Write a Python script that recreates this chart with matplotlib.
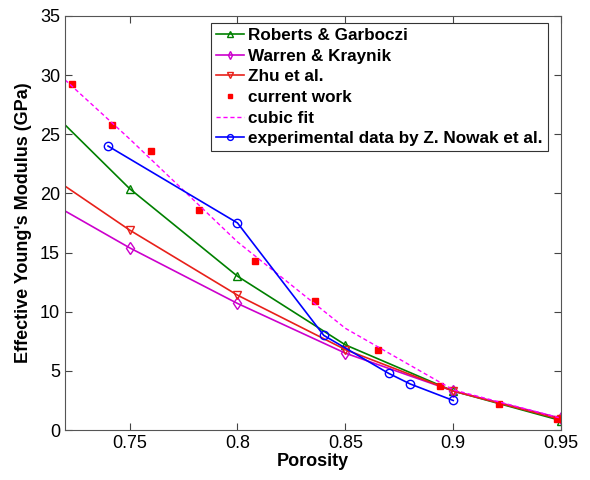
import matplotlib

matplotlib.use("Agg")
import matplotlib.pyplot as plt

# model curves (porosity grid)
model_x = [0.70, 0.75, 0.80, 0.85, 0.90, 0.95]
roberts = [29.4, 20.4, 13.0, 7.2, 3.3, 0.8]
warren = [20.6, 15.4, 10.7, 6.5, 3.3, 1.0]
zhu = [23.1, 16.9, 11.4, 6.8, 3.3, 0.9]

# current work
work_x = [0.7235, 0.742, 0.7597, 0.782, 0.808, 0.836, 0.865, 0.894, 0.921, 0.948]
work_y = [29.2, 25.8, 23.6, 18.6, 14.3, 10.9, 6.8, 3.7, 2.2, 0.9]

# cubic fit
fit_x = [0.72, 0.75, 0.80, 0.85, 0.90, 0.95]
fit_y = [29.6, 24.6, 15.9, 8.6, 3.4, 1.0]

# experimental data by Z. Nowak et al.
exp_x = [0.74, 0.80, 0.84, 0.87, 0.88, 0.90]
exp_y = [24.0, 17.5, 8.0, 4.8, 3.9, 2.5]

plt.rcParams["font.family"] = ["Liberation Sans", "DejaVu Sans"]

fig = plt.figure(figsize=(5.9, 4.8), dpi=100)
ax = fig.add_axes([0.110, 0.104, 0.841, 0.863])

ax.plot(model_x, roberts, color="#008000", marker="^", mfc="none", ms=6, lw=1.2,
        label="Roberts & Garboczi")
ax.plot(model_x, warren, color="#cc00cc", marker="d", mfc="none", ms=6, lw=1.2,
        label="Warren & Kraynik")
ax.plot(model_x, zhu, color="#e8201a", marker="v", mfc="none", ms=6, lw=1.2,
        label="Zhu et al.")
ax.plot(work_x, work_y, color="red", marker="s", ls="none", ms=5,
        label="current work")
ax.plot(fit_x, fit_y, color="#ff00ff", ls="--", lw=1.0, dashes=(3, 2),
        label="cubic fit")
ax.plot(exp_x, exp_y, color="#0000ff", marker="o", mfc="none", ms=6, lw=1.2,
        label="experimental data by Z. Nowak et al.")

ax.set_xlim(0.72, 0.95)
ax.set_ylim(0, 35)
ax.set_xticks([0.75, 0.8, 0.85, 0.9, 0.95])
ax.set_xticklabels(["0.75", "0.8", "0.85", "0.9", "0.95"])
ax.set_yticks(range(0, 36, 5))
ax.tick_params(direction="in", top=True, right=True, labelsize=13, length=5,
               color="#444444")
for s in ax.spines.values():
    s.set_color("#555555")

ax.set_xlabel("Porosity", fontsize=13, fontweight="bold", labelpad=1)
ax.set_ylabel("Effective Young's Modulus (GPa)", fontsize=13, fontweight="bold",
              labelpad=6)

leg = ax.legend(loc="upper right", bbox_to_anchor=(0.973, 0.983),
                prop={"weight": "bold", "size": 12.3}, handlelength=1.6,
                handletextpad=0.25, borderpad=0.3, labelspacing=0.33,
                borderaxespad=0.0,
                fancybox=False, edgecolor="#333333", framealpha=1, markerscale=0.7)
leg.get_frame().set_linewidth(0.8)

fig.savefig("out.png", dpi=100)
